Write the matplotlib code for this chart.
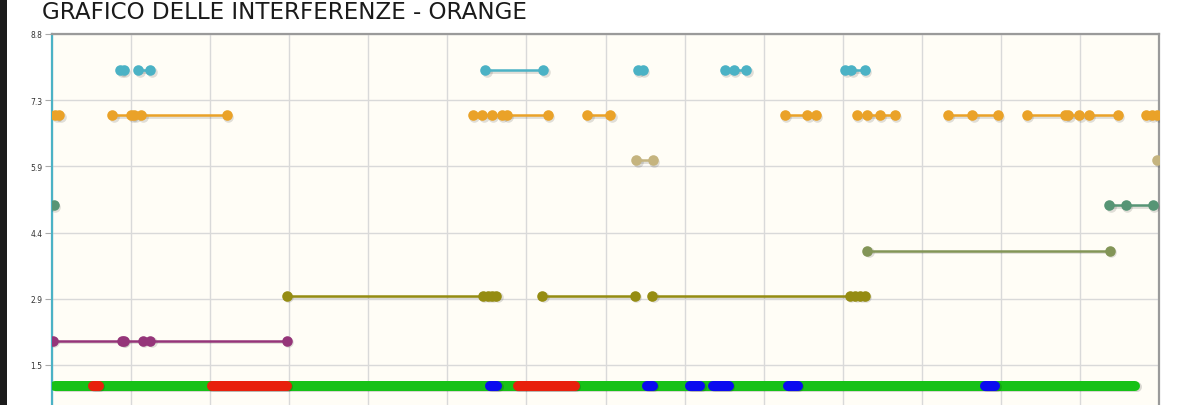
import numpy as np
import matplotlib
matplotlib.use("Agg")
import matplotlib.pyplot as plt
import matplotlib.transforms as mtransforms
from matplotlib.patches import Rectangle

# ---------------- data (x in grid-interval units, rows at integer y) -------------
title = "GRAFICO DELLE INTERFERENZE - ORANGE"
y_tick_values = [1.4667, 2.9333, 4.4, 5.8667, 7.3333, 8.8]
y_tick_labels = ["1.5", "2.9", "4.4", "5.9", "7.3", "8.8"]
x_grid = list(range(0, 15))

cyan_y = 8
cyan_x = [0.86, 0.91, None, 1.09, 1.24, None, 5.48, 6.21, None, 7.41, 7.47, None,
          8.51, 8.62, 8.78, None, 10.03, 10.11, 10.28]
orange_y = 7
orange_x = [0.04, 0.09, None, 0.76, 1.00, 1.04, 1.13, 2.21, None,
            5.32, 5.44, 5.56, 5.69, 5.75, 6.27, None, 6.77, 7.06, None,
            9.27, 9.55, 9.66, None, 10.18, 10.31, 10.47, 10.66, None,
            11.33, 11.64, 11.96, None, 12.33, 12.81, 12.85, 12.99, 13.11, 13.48, None,
            13.83, 13.91, 13.98]
tan_y = 6
tan_x = [7.39, 7.60, None, 13.98]
teal_y = 5
teal_x = [0.02, None, 13.37, 13.58, 13.92]
sage_y = 4
sage_x = [10.31, 13.38]
olive_y = 3
olive_x = [2.97, 5.45, 5.51, 5.56, 5.62, None, 6.20, 7.37, None,
           7.59, 10.09, 10.16, 10.22, 10.28]
purple_y = 2
purple_x = [0.01, 0.89, 0.91, 1.15, 1.24, 2.97]

band_y = 1
green_x = [0.04, 13.70]
red_x = [0.52, 0.59, None, 2.02, 2.97, None, 5.89, 6.61]
blue_x = [5.54, 5.63, None, 7.53, 7.60, None, 8.07, 8.20, None, 8.36, 8.56, None,
          9.31, 9.43, None, 11.80, 11.93]

# ---------------- figure -------------
W, H = 1177, 406
fig = plt.figure(figsize=(W / 100, H / 100), dpi=100, facecolor="white")
fig.patches.append(Rectangle((0, 0), 7 / W, 1, transform=fig.transFigure,
                             facecolor="#1b1b1b", edgecolor="none", zorder=-1))

left_px, right_px, top_px, zero_px = 52, 1159, 35, 432
ax = fig.add_axes([left_px / W, (H - zero_px) / H, (right_px - left_px) / W,
                   (zero_px - top_px) / H])
ax.set_facecolor("#fffdf6")
ax.set_xlim(0, 14)
ax.set_ylim(0, 8.8)

ax.set_xticks(x_grid)
ax.set_yticks(y_tick_values)
ax.set_yticklabels(y_tick_labels)
ax.tick_params(axis="x", length=0, labelbottom=False)
ax.tick_params(axis="y", length=5, width=0.8, color="#aaaaaa", labelsize=5.5,
               labelcolor="#333333", pad=2)
ax.grid(True, color="#d9d9d9", linewidth=1.0)
ax.set_axisbelow(True)

for s in ["top", "right"]:
    ax.spines[s].set_color("#9a9a9a")
    ax.spines[s].set_linewidth(1.6)
ax.spines["left"].set_color("#4bb2c5")
ax.spines["left"].set_linewidth(1.6)
ax.spines["bottom"].set_visible(False)

shadow_tr = mtransforms.offset_copy(ax.transData, fig=fig, x=1.5, y=-1.5, units="dots")


def arr(v):
    return np.array([np.nan if a is None else a for a in v], dtype=float)


def series(xs, yv, color, z):
    x = arr(xs)
    y = np.where(np.isnan(x), np.nan, yv)
    ax.plot(x, y, color="black", alpha=0.12, lw=2.0, marker="o", ms=7.6, mew=0,
            transform=shadow_tr, zorder=z - 0.5)
    ax.plot(x, y, color=color, lw=1.8, marker="o", ms=7.6, mew=0, zorder=z)


def band(xs, yv, color, z):
    x = arr(xs)
    y = np.where(np.isnan(x), np.nan, yv)
    ax.plot(x, y, color="black", alpha=0.15, lw=7.2, solid_capstyle="round",
            transform=shadow_tr, zorder=z - 0.5)
    ax.plot(x, y, color=color, lw=7.2, solid_capstyle="round", zorder=z)


series(cyan_x, cyan_y, "#4bb2c5", 5)
series(orange_x, orange_y, "#eaa228", 5)
series(tan_x, tan_y, "#c5b47f", 5)
series(teal_x, teal_y, "#579575", 5)
series(sage_x, sage_y, "#839557", 5)
series(olive_x, olive_y, "#958c12", 5)
series(purple_x, purple_y, "#953579", 5)

band(green_x, band_y, "#17c117", 6)
band(red_x, band_y, "#e8200c", 7)
band(blue_x, band_y, "#0a0af0", 8)

fig.text(42 / W, 1 - 19 / H, title, fontsize=16.6, family="DejaVu Sans",
         color="#1a1a1a", ha="left", va="baseline")

fig.savefig("out.png", dpi=100, facecolor="white")
